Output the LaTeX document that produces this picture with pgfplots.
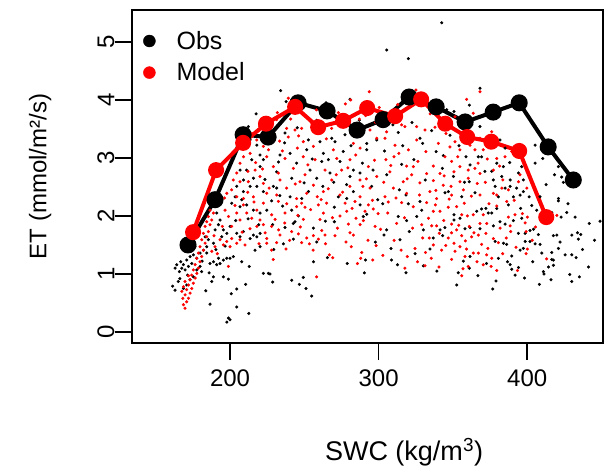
\documentclass[border=0pt]{standalone}
\usepackage{fontspec}
\setmainfont{Liberation Sans}
\usepackage{pgfplots}
\pgfplotsset{compat=1.18}
\definecolor{rred}{RGB}{255,0,0}
\begin{document}
\begin{tikzpicture}
\begin{axis}[
  scale only axis, width=471pt, height=333pt,
  xmin=134, xmax=451, ymin=-0.19, ymax=5.55,
  axis line style={line width=1.5pt},
  tick pos=left, tick align=outside, major tick length=17pt,
  tick style={line width=1.5pt, black},
  xtick={200,300,400}, ytick={0,1,2,3,4,5},
  /pgf/number format/assume math mode=true,
  ticklabel style={font=\fontsize{24}{28}\selectfont},
  yticklabel style={rotate=90, anchor=south},
  yticklabel shift=-3pt,
  xticklabel shift=6pt,
  xlabel={SWC (kg/m\textsuperscript{3})},
  ylabel={ET (mmol/m²/s)},
  label style={font=\fontsize{24}{28}\selectfont},
  xlabel style={at={(axis description cs:0.5775,-0.327)}, anchor=center, font=\fontsize{27}{31}\selectfont},
  ylabel style={at={(axis description cs:-0.195,0.5)}, anchor=center},
  legend style={at={(rel axis cs:0,1)}, anchor=north west, draw=none, fill=none,
    font=\fontsize{25}{29}\selectfont, xshift=8pt, yshift=-17pt, row sep=8pt,
    column sep=19pt},
  legend cell align=left,
]
\addlegendimage{legend image code/.code={\fill[black] (0.3cm,0cm) circle (6pt);}}\addlegendentry{Obs}
\addlegendimage{legend image code/.code={\fill[rred] (0.3cm,0cm) circle (6pt);}}\addlegendentry{Model}

% Obs scatter
\addplot[only marks, mark=*, mark size=1.35pt, black, forget plot] table {
x y
161.4 0.79
165.2 0.87
166.8 1.21
168.6 1.16
170.8 1.24
167.5 1.10
172.0 1.13
173.1 1.30
175.3 1.33
169.7 1.07
174.2 1.18
177.6 1.27
179.8 1.36
182.1 1.41
184.3 1.36
186.5 1.18
188.8 1.21
191.0 1.16
192.2 1.27
193.3 1.18
195.5 1.24
197.8 1.27
200.0 1.27
202.2 1.30
188.8 0.95
187.7 0.87
195.5 0.95
198.9 0.91
204.5 0.74
210.5 0.82
186.5 0.48
204.5 0.43
212.6 0.32
198.9 0.24
200.0 0.21
197.8 0.17
216.8 1.41
220.2 1.47
222.4 1.01
225.8 1.01
197.8 1.70
204.5 1.70
206.7 1.64
209.0 1.73
213.5 1.61
215.7 1.67
218.0 1.64
220.2 1.70
193.3 1.93
191.0 2.05
192.2 1.85
195.5 1.76
200.0 1.82
201.1 2.22
206.7 2.16
211.2 2.19
215.7 2.10
220.2 2.05
224.7 2.10
184.3 1.47
183.2 1.64
185.4 1.59
188.8 1.53
189.9 1.76
194.4 1.64
163.0 1.10
164.1 1.16
165.9 1.04
177.6 1.07
179.8 1.13
180.9 1.04
175.3 0.95
173.1 0.90
170.8 0.81
168.6 0.75
163.0 0.72
213.5 3.31
218.0 3.22
214.6 2.97
220.2 3.05
211.2 2.79
209.0 2.62
215.7 2.65
220.2 2.85
222.4 2.97
206.7 2.79
204.5 2.51
213.5 2.51
218.0 2.51
222.4 2.42
209.0 2.42
203.4 2.33
207.9 2.28
217.5 3.76
212.3 3.54
234.1 4.16
237.7 3.97
264.6 3.95
280.7 4.01
258.3 3.65
287.0 3.65
237.0 3.43
252.7 3.31
260.5 3.28
268.4 3.34
270.6 3.28
277.4 3.40
292.0 3.25
298.7 3.31
240.4 3.08
251.6 3.14
262.8 3.08
276.2 3.11
292.0 3.14
233.6 3.05
244.8 2.91
261.7 2.94
266.2 2.97
274.0 2.94
231.4 2.76
253.8 2.79
267.3 2.74
283.0 2.79
280.7 2.68
287.5 2.74
229.1 2.51
241.5 2.65
258.3 2.65
278.5 2.54
231.4 2.48
295.3 2.51
283.0 2.42
240.4 2.33
248.2 2.30
278.5 2.30
272.9 2.33
228.0 2.26
235.4 2.17
241.5 2.10
246.0 2.00
243.7 1.90
242.6 1.87
237.0 1.80
270.2 2.15
270.2 1.90
287.5 2.19
289.7 1.99
292.0 2.03
228.7 1.85
242.6 1.60
235.9 1.52
258.3 1.55
256.1 1.79
265.5 1.28
256.1 1.21
291.1 1.24
226.9 1.00
228.7 0.86
241.5 0.89
249.3 0.94
246.6 0.82
251.1 0.75
254.9 0.62
290.4 1.02
342.4 5.33
305.4 4.86
320.0 4.71
368.2 4.20
361.0 3.91
350.7 3.80
345.8 3.83
322.4 3.61
313.2 3.44
335.7 3.47
329.6 3.25
327.8 3.34
348.0 3.39
368.2 3.54
362.6 3.58
343.5 3.04
358.8 3.02
361.5 2.88
367.1 3.02
369.3 3.02
315.5 2.89
305.4 2.71
361.0 2.59
313.9 2.45
318.4 2.36
346.9 2.42
355.9 2.33
364.8 2.40
344.6 2.40
350.3 2.68
302.7 2.21
320.0 2.21
327.8 2.25
329.0 2.10
325.6 1.99
313.2 1.99
318.8 1.92
305.4 1.76
303.6 1.67
320.6 1.73
314.4 1.59
330.1 1.76
336.8 1.62
344.6 1.80
341.3 1.76
343.1 1.66
350.7 2.02
350.7 1.93
354.7 1.96
358.1 1.78
361.5 1.80
368.2 1.78
366.0 2.08
369.3 2.12
372.2 2.13
373.8 2.05
308.3 1.44
308.7 1.24
334.5 1.43
324.5 1.35
330.1 1.14
318.4 1.02
357.0 1.22
361.5 1.30
353.6 1.02
352.5 0.81
361.0 1.10
405.3 3.22
409.8 3.14
410.4 2.99
405.3 2.91
421.0 2.85
423.2 2.67
424.3 2.58
381.7 3.31
385.1 3.17
384.0 2.85
379.5 2.91
396.3 2.85
394.1 2.74
382.9 2.68
388.5 2.62
397.4 2.62
377.2 2.62
378.4 2.51
385.1 2.48
388.5 2.51
392.9 2.48
397.4 2.42
408.6 2.33
421.0 2.30
376.1 2.77
380.6 2.33
390.7 2.33
395.2 2.36
379.5 2.13
387.3 2.19
395.6 2.13
403.0 2.18
406.4 2.10
415.4 1.90
416.5 2.06
421.0 2.26
426.6 2.06
422.8 1.98
432.2 1.98
441.8 1.87
449.0 1.91
376.1 2.05
377.2 1.83
381.7 1.90
385.1 1.86
390.7 1.92
396.3 1.96
394.1 1.70
398.6 1.70
401.9 1.75
404.2 1.77
407.5 1.68
417.6 1.66
419.9 1.67
430.0 1.67
433.8 1.71
436.0 1.68
434.4 1.60
422.1 1.55
421.0 1.44
416.5 1.37
425.5 1.33
430.0 1.33
432.9 1.28
378.4 1.56
384.0 1.53
386.2 1.51
398.6 1.56
401.9 1.56
405.3 1.52
408.6 1.51
395.2 1.41
389.6 1.31
397.4 1.44
409.8 1.36
416.5 1.25
417.6 1.24
380.6 1.27
386.7 1.21
388.5 1.16
394.1 1.11
389.6 1.08
391.8 0.98
414.3 1.12
417.6 1.15
410.9 1.04
411.3 1.00
416.0 0.90
408.2 0.82
430.0 0.87
435.1 0.95
379.0 0.88
376.8 0.74
171.5 0.98
176.4 1.47
181.2 1.22
185.9 1.02
190.5 1.42
196.7 1.48
203.8 1.92
166.2 0.92
183.7 0.71
207.9 1.21
212.1 1.95
219.3 1.85
223.5 2.63
226.3 3.27
232.6 2.93
236.7 3.26
245.2 3.52
249.8 2.57
255.3 2.98
262.4 2.51
269.8 2.58
274.6 3.58
281.4 3.21
289.1 2.91
296.2 2.79
299.4 2.28
303.9 3.12
309.6 3.57
316.2 3.21
323.7 2.97
331.4 2.62
338.7 3.11
342.9 2.82
354.1 3.21
357.8 2.58
371.5 2.77
374.6 3.18
388.2 2.92
401.3 2.33
412.7 2.54
418.3 2.71
427.4 2.21
437.2 1.42
441.2 1.12
445.3 1.58
428.6 0.99
403.7 1.21
398.1 0.93
372.6 1.18
366.8 0.97
339.2 1.05
312.7 1.16
297.8 1.55
278.9 1.18
264.1 1.91
252.8 2.42
233.5 2.35
229.4 1.42
212.9 1.13
200.8 0.66
};

% Model scatter
\addplot[only marks, mark=*, mark size=1.35pt, rred, forget plot] table {
x y
169.7 0.41
168.6 0.47
170.8 0.52
168.2 0.58
172.0 0.58
169.7 0.64
173.1 0.67
167.5 0.70
170.8 0.73
174.2 0.75
168.6 0.78
172.0 0.81
175.3 0.84
169.7 0.87
173.1 0.90
176.5 0.93
174.2 0.98
172.0 0.97
177.6 1.01
175.3 1.07
178.7 1.10
176.5 1.16
179.8 1.21
177.6 1.27
180.9 1.30
178.7 1.36
182.1 1.41
179.8 1.47
183.2 1.53
180.9 1.59
184.3 1.64
182.1 1.70
185.4 1.73
183.2 1.82
186.5 1.85
184.3 1.90
187.7 1.93
185.4 1.99
188.8 2.05
186.5 2.10
189.9 2.16
192.2 2.22
187.7 1.39
189.9 1.47
193.3 1.59
195.5 1.50
197.8 1.56
200.0 1.47
201.1 1.61
204.5 1.53
206.7 1.59
210.1 1.50
198.9 1.13
220.2 1.93
222.4 1.85
218.0 1.82
218.0 2.10
211.2 2.05
204.5 2.05
196.6 2.10
198.9 1.99
214.6 1.96
224.7 1.61
206.7 1.93
201.1 1.82
224.7 1.53
209.0 2.19
222.4 2.22
210.1 3.25
218.0 3.31
222.4 3.20
209.0 3.02
206.7 2.91
213.5 3.08
224.7 3.02
212.0 2.77
216.8 2.79
220.2 2.68
202.2 2.62
204.5 2.74
206.7 2.59
212.3 2.59
222.4 2.56
197.8 2.39
201.1 2.45
209.0 2.30
215.7 2.33
224.7 2.39
204.5 2.33
231.8 3.78
240.8 3.67
272.9 3.78
287.0 3.67
293.7 4.14
281.2 4.00
239.2 4.03
231.4 3.66
238.1 3.51
243.7 3.48
248.2 3.51
262.8 3.47
268.4 3.51
287.9 3.51
294.2 3.48
298.7 3.34
249.3 3.28
239.2 3.36
245.3 3.17
256.1 3.20
269.5 3.14
283.0 3.25
287.5 3.17
237.0 2.99
249.3 3.02
257.2 2.97
271.8 2.99
280.7 2.97
293.1 2.85
229.1 2.85
232.5 2.74
242.6 2.82
250.5 2.71
263.9 2.79
275.1 2.79
287.5 2.62
298.7 2.68
233.6 2.62
247.1 2.59
256.1 2.53
268.4 2.62
280.7 2.51
294.2 2.48
238.1 2.48
251.6 2.39
262.8 2.42
274.0 2.36
287.5 2.33
231.4 2.36
244.8 2.30
232.5 2.25
238.1 2.21
248.2 2.22
259.4 2.19
265.0 2.22
277.4 2.22
284.1 2.25
293.1 2.19
244.8 2.16
250.5 2.15
262.8 2.05
274.0 2.00
278.5 2.08
290.8 2.08
296.4 2.12
228.0 2.02
237.0 2.05
249.3 1.94
260.5 1.94
230.3 1.94
284.8 1.96
279.6 1.86
287.5 1.85
289.7 1.92
228.0 1.82
233.6 1.67
241.5 1.73
246.0 1.69
251.6 1.62
256.1 1.66
261.7 1.75
263.9 1.67
270.6 1.66
280.7 1.71
283.0 1.67
297.6 1.82
231.4 1.54
237.7 1.43
248.2 1.54
253.4 1.52
259.4 1.60
278.0 1.55
228.0 1.41
229.1 1.25
266.8 1.33
269.1 1.28
288.6 1.37
287.9 1.27
296.0 1.24
258.3 0.95
325.1 4.17
368.2 4.14
359.2 4.01
363.7 3.77
351.4 3.71
315.5 3.57
317.7 3.54
309.9 3.65
325.6 3.54
331.2 3.48
302.0 3.60
305.4 3.45
304.3 3.34
311.0 3.22
320.0 3.14
325.6 3.31
337.9 3.53
340.2 3.25
351.4 3.28
348.0 3.19
354.7 3.14
361.5 3.22
364.8 3.14
370.4 3.14
368.2 3.34
304.9 2.97
310.3 3.02
318.8 2.86
323.3 2.85
336.8 2.86
344.6 3.02
349.1 2.94
354.7 2.85
360.3 2.79
364.8 2.82
368.2 2.73
307.6 2.76
322.2 2.71
332.3 2.73
341.3 2.73
350.7 2.76
316.6 2.59
327.8 2.57
336.8 2.61
343.5 2.53
354.7 2.59
360.3 2.65
366.4 2.56
309.9 2.48
318.8 2.39
334.5 2.42
349.1 2.36
357.0 2.45
368.2 2.36
304.3 2.33
339.0 2.30
306.5 2.24
315.5 2.23
323.3 2.16
332.3 2.23
336.8 2.08
341.3 2.08
346.9 2.15
352.5 2.16
355.9 2.02
359.7 2.00
363.7 2.02
370.4 2.02
372.7 1.87
312.1 1.87
329.0 1.85
335.7 1.83
339.0 1.83
349.1 1.86
349.1 1.71
352.5 1.76
361.0 1.82
368.2 1.87
367.1 1.67
372.2 1.70
301.3 1.77
329.6 1.62
334.1 1.62
340.8 1.70
346.9 1.62
355.9 1.66
362.6 1.64
336.8 1.50
350.7 1.53
354.7 1.47
359.2 1.43
363.7 1.36
367.1 1.36
372.7 1.33
324.5 1.44
331.6 1.37
342.4 1.41
351.4 1.39
349.1 1.25
358.1 1.30
370.4 1.16
319.3 1.30
317.7 1.10
331.2 1.14
360.3 1.13
355.9 0.97
376.1 3.45
376.1 3.31
385.1 3.02
379.5 2.99
389.6 3.11
377.2 2.79
395.2 2.71
394.1 2.59
399.7 2.48
377.2 2.39
382.9 2.48
387.3 2.45
379.5 2.36
379.5 2.17
386.2 2.25
387.3 1.98
391.8 2.02
388.5 1.83
381.7 1.79
398.6 1.88
400.1 1.98
399.2 1.73
388.9 1.73
377.2 1.61
380.6 1.54
400.1 1.43
399.2 1.35
383.5 1.35
376.1 1.27
413.1 1.26
419.9 2.01
393.4 1.06
379.5 1.06
375.7 1.13
235.2 3.12
243.9 2.55
252.4 2.88
258.7 2.33
266.1 2.47
271.5 2.71
279.3 2.83
284.6 3.05
291.7 2.64
297.2 2.96
236.8 1.88
245.6 2.01
254.2 2.11
261.3 2.28
268.9 1.97
275.8 2.41
282.1 2.13
289.4 2.51
295.8 2.27
299.6 2.04
232.7 1.76
240.1 1.58
247.3 1.81
255.9 1.41
264.2 1.52
272.3 1.79
281.6 1.47
292.8 1.58
298.3 1.49
285.7 1.18
303.4 2.58
308.2 2.87
313.6 3.08
319.2 2.64
326.4 2.94
331.8 3.11
338.5 2.44
344.1 2.69
348.7 2.51
353.3 3.02
357.6 2.22
362.4 2.34
366.9 2.91
371.8 2.58
374.2 2.21
306.1 2.05
311.7 2.31
317.4 1.97
322.8 1.79
327.5 2.36
333.6 1.96
338.2 2.19
343.8 1.92
347.5 2.29
353.9 1.84
358.4 1.57
364.1 1.71
369.3 1.51
373.5 1.44
310.4 1.58
315.1 1.41
326.2 1.21
335.4 1.27
345.2 1.49
340.6 1.12
356.8 1.09
366.2 1.21
302.8 1.32
213.4 1.78
216.1 2.24
219.5 1.52
223.6 1.71
226.3 2.48
208.1 1.72
203.3 2.18
211.9 2.41
217.2 2.92
221.8 2.81
225.9 3.14
214.7 3.42
219.9 3.55
226.6 3.46
233.3 3.29
246.1 3.38
254.6 3.61
264.8 3.33
275.3 3.57
283.9 3.39
291.2 3.73
297.9 3.61
258.1 3.83
277.6 3.93
300.4 3.87
312.9 3.92
334.7 3.76
345.3 3.42
357.1 3.49
373.1 2.98
383.6 2.62
391.2 2.27
396.8 2.04
385.9 1.62
392.5 1.46
403.4 1.58
405.6 1.81
381.4 2.86
189.2 1.66
191.4 1.35
194.8 1.82
196.3 2.31
};

% Obs binned line
\addplot[black, line width=4pt, mark=*, mark size=6.5pt, forget plot] coordinates {
(171.7,1.50) (189.9,2.28) (208.8,3.40) (225.6,3.36) (245.8,3.95) (265.3,3.81)
(285.5,3.48) (303.0,3.66) (320.5,4.05) (338.7,3.88) (358.2,3.62) (377.1,3.79)
(394.6,3.95) (414.1,3.19) (431.0,2.62)};

% Model binned line
\addplot[rred, line width=4pt, mark=*, mark size=6pt, forget plot] coordinates {
(175.1,1.72) (190.6,2.79) (208.8,3.26) (224.2,3.59) (243.8,3.88) (259.3,3.53)
(276.1,3.64) (292.3,3.86) (311.1,3.72) (328.6,4.01) (344.8,3.59) (359.6,3.36)
(375.8,3.28) (394.6,3.12) (412.8,1.98)};
\end{axis}
\pgfresetboundingbox
\path[use as bounding box] (current axis.south west) ++(-132pt,-130pt) rectangle ++(615pt,473pt);
\end{tikzpicture}
\end{document}
